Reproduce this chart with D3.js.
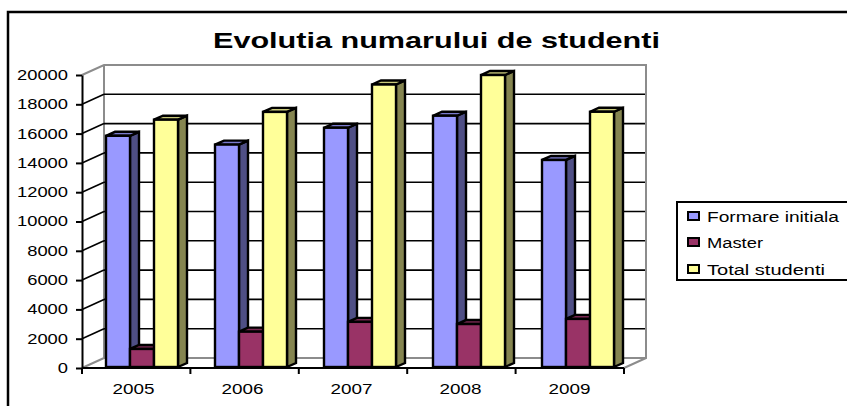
<!DOCTYPE html>
<html><head><meta charset="utf-8">
<style>html,body{margin:0;padding:0;background:#fff;overflow:hidden}svg{display:block}text{font-family:"Liberation Sans",Arial,sans-serif;fill:#000}</style>
<script src="https://cdn.jsdelivr.net/npm/d3@7"></script></head><body>
<script>
const years=["2005","2006","2007","2008","2009"];
const seriesNames=["Formare initiala","Master","Total studenti"];
const formare=[15850,15250,16400,17220,14200];
const master=[1300,2480,3150,3000,3350];
const total=[16950,17480,19350,20000,17490];
const tickValues=[0,2000,4000,6000,8000,10000,12000,14000,16000,18000,20000];
const seriesValues=[formare,master,total];
const frontCol=["#9999ff","#993366","#ffff99"],sideCol=["#4f4f85","#4f1a35","#858550"],topCol=["#7a7acc","#7a2952","#c9c97a"];
const legendWidths=[132,56,118];
const svg=d3.select("body").append("svg").attr("width",847).attr("height",406);
const y=d3.scaleLinear().domain([0,20000]).range([368,75]);
const x=d3.scaleBand().domain(years).range([79,624]);
const x0=82,x1=624,dx=22,dy=-10,bdx=9,bdy=-4;
svg.append("rect").attr("x",8).attr("y",12).attr("width",900).attr("height",420).attr("fill","#fff").attr("stroke","#000").attr("stroke-width",2.5);
svg.append("text").attr("x",436.5).attr("y",48).attr("text-anchor","middle").attr("font-size",22).attr("font-weight","bold").attr("textLength",447).attr("lengthAdjust","spacingAndGlyphs").text("Evolutia numarului de studenti");
const grey="#8c8c8c";
svg.append("path").attr("fill","none").attr("stroke",grey).attr("stroke-width",2)
 .attr("d",`M${x0},${y(20000)}L${x0+dx},${y(20000)+dy}L${x1+dx},${y(20000)+dy}L${x1+dx},${y(0)+dy}L${x1},${y(0)}M${x0+dx},${y(20000)+dy}L${x0+dx},${y(0)+dy}L${x1+dx},${y(0)+dy}M${x0},${y(0)}L${x0+dx},${y(0)+dy}`);
tickValues.filter(d=>d>0&&d<20000).forEach(v=>{
 svg.append("line").attr("x1",x0+dx).attr("x2",x1+dx-1).attr("y1",y(v)+dy).attr("y2",y(v)+dy).attr("stroke","#000").attr("stroke-width",1.6);
 svg.append("line").attr("x1",x0).attr("x2",x0+dx).attr("y1",y(v)).attr("y2",y(v)+dy).attr("stroke","#000").attr("stroke-width",1.6);
});
const ay=svg.append("g").attr("transform",`translate(${x0},0)`).call(d3.axisLeft(y).tickValues(tickValues).tickFormat(d3.format("d")).tickSize(6).tickSizeOuter(0));
ay.selectAll("path,line").attr("stroke","#000").attr("stroke-width",2);
ay.selectAll("text").attr("font-size",14).attr("font-family","Liberation Sans").attr("x",-14)
 .attr("textLength",d=>String(d).length*10.2).attr("lengthAdjust","spacingAndGlyphs");
const ax=svg.append("g").attr("transform","translate(0,368)").call(d3.axisBottom(x).tickSize(0).tickSizeOuter(0));
ax.select("path").attr("d",`M${x0},0H${x1}`).attr("stroke","#000").attr("stroke-width",2.2);
ax.selectAll("text").attr("font-size",14).attr("font-family","Liberation Sans").attr("y",20).attr("dy","0.45em")
 .attr("textLength",42).attr("lengthAdjust","spacingAndGlyphs");
svg.append("g").selectAll("line").data([0,1,2,3,4,5]).join("line")
 .attr("x1",i=>x0+i*(x1-x0)/5).attr("x2",i=>x0+i*(x1-x0)/5).attr("y1",368).attr("y2",374).attr("stroke","#000").attr("stroke-width",2);
const inner=d3.scaleBand().domain([0,1,2]).range([0,72]);
years.forEach((yr,c)=>{
 const g=svg.append("g").attr("transform",`translate(${x(yr)+27},0)`);
 [0,1,2].forEach(s=>{
  const v=seriesValues[s][c],bx=inner(s),bw=inner.bandwidth(),t=y(v),b=y(0)-1;
  g.append("path").attr("d",`M${bx+bw},${t}l${bdx},${bdy}L${bx+bw+bdx},${b+bdy}L${bx+bw},${b}Z`).attr("fill",sideCol[s]).attr("stroke","#000").attr("stroke-width",2.4);
  g.append("path").attr("d",`M${bx},${t}l${bdx},${bdy}h${bw}l${-bdx},${-bdy}Z`).attr("fill",topCol[s]).attr("stroke","#000").attr("stroke-width",2.4);
  g.append("rect").attr("x",bx).attr("y",t).attr("width",bw).attr("height",b-t).attr("fill",frontCol[s]).attr("stroke","#000").attr("stroke-width",2.4);
 });
});
const lg=svg.append("g").attr("transform","translate(677,202)");
lg.append("rect").attr("width",190).attr("height",78).attr("fill","#fff").attr("stroke","#000").attr("stroke-width",2);
seriesNames.forEach((n,i)=>{
 const yy=[14,40,67][i];
 lg.append("rect").attr("x",11).attr("y",yy-4).attr("width",11).attr("height",8).attr("fill",frontCol[i]).attr("stroke","#000").attr("stroke-width",2);
 lg.append("text").attr("x",30).attr("y",yy+6).attr("font-size",14).attr("textLength",legendWidths[i]).attr("lengthAdjust","spacingAndGlyphs").text(n);
});
</script></body></html>
